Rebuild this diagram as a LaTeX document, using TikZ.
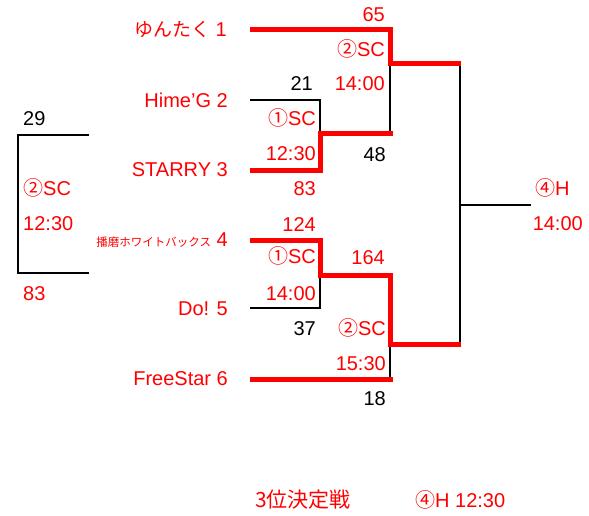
\documentclass[tikz,border=0pt]{standalone}
\usepackage{fontspec}
\setmainfont{Liberation Sans}
\newfontfamily\jp{Noto Sans CJK JP}
\definecolor{bred}{RGB}{255,0,0}
\tikzset{
  redline/.style={draw=bred, line width=5pt, line join=miter},
  blkline/.style={draw=black, line width=1.8pt, line join=miter},
  lbl/.style={inner sep=0pt, font=\fontsize{20}{20}\selectfont, text height=14.3pt, text depth=0pt},
  rlbl/.style={lbl, text=bred},
  klbl/.style={lbl, text=black},
}
\begin{document}
\begin{tikzpicture}[x=1pt, y=-1pt]
\useasboundingbox (0,0) rectangle (589,516);
% coordinates
\coordinate (a1) at (250,30);  \coordinate (a2) at (390,30);  \coordinate (a3) at (390,64);  \coordinate (a4) at (461,64);
\coordinate (b1) at (250,100); \coordinate (b2) at (320,100); \coordinate (b3) at (320,134);
\coordinate (c1) at (250,170); \coordinate (c2) at (320,170); \coordinate (c3) at (320,134); \coordinate (c4) at (392.5,134);
\coordinate (d1) at (390,64);  \coordinate (d2) at (390,134);
\coordinate (e1) at (460,64);  \coordinate (e2) at (460,344); \coordinate (e3) at (460,205); \coordinate (e4) at (531,205);
\coordinate (f1) at (250,240); \coordinate (f2) at (320,240); \coordinate (f3) at (320,275); \coordinate (f4) at (390,275); \coordinate (f5) at (390,344); \coordinate (f6) at (461,344);
\coordinate (g1) at (250,308); \coordinate (g2) at (320,308); \coordinate (g3) at (320,275);
\coordinate (h1) at (390,344); \coordinate (h2) at (390,379);
\coordinate (i1) at (250,379); \coordinate (i2) at (392.5,379);
\coordinate (l1) at (89,135);  \coordinate (l2) at (18,135);  \coordinate (l3) at (18,273);  \coordinate (l4) at (89,273);
% black lines
\draw[blkline] (b1) -- (b2) -- (b3);
\draw[blkline] (d1) -- (d2);
\draw[blkline] (e1) -- (e2);
\draw[blkline] (e3) -- (e4);
\draw[blkline] (g1) -- (g2) -- (g3);
\draw[blkline] (h1) -- (h2);
\draw[blkline] (l1) -- (l2) -- (l3) -- (l4);
% red lines
\draw[redline] (a1) -- (a2) -- (a3) -- (a4);
\draw[redline] (c1) -- (c2) -- (c3) -- (c4);
\draw[redline] (f1) -- (f2) -- (f3) -- (f4) -- (f5) -- (f6);
\draw[redline] (i1) -- (i2);
% team names
\node[rlbl, anchor=east] (t1) at (227,29) {{\jp\fontsize{19}{19}\selectfont ゆんたく} 1};
\node[rlbl, anchor=east] (t2) at (228,100) {Hime'G 2};
\node[rlbl, anchor=east] (t3) at (228,169) {STARRY 3};
\node[rlbl, anchor=east] (t4) at (228,239) {{\jp\fontsize{11.5}{11.5}\selectfont 播磨ホワイトバックス} 4};
\node[rlbl, anchor=east] (t5) at (228,308) {Do! 5};
\node[rlbl, anchor=east] (t6) at (228,378) {FreeStar 6};
% upper block
\node[rlbl, anchor=east] (s65) at (385,14) {65};
\node[rlbl, anchor=east] (m2a) at (385,49) {{\jp ②}SC};
\node[rlbl, anchor=east] (tm2a) at (385,83) {14:00};
\node[klbl, anchor=east] (s21) at (313,83) {21};
\node[rlbl, anchor=east] (m1a) at (316,118) {{\jp ①}SC};
\node[rlbl, anchor=east] (tm1a) at (316,153) {12:30};
\node[klbl, anchor=east] (s48) at (386,154) {48};
\node[rlbl, anchor=east] (s83) at (316,188) {83};
% final
\node[rlbl, anchor=west] (m4) at (535,188) {{\jp ④}H};
\node[rlbl, anchor=east] (tm4) at (583,223) {14:00};
% lower block
\node[rlbl, anchor=east] (s124) at (316,224) {124};
\node[rlbl, anchor=east] (m1b) at (316,256) {{\jp ①}SC};
\node[rlbl, anchor=east] (s164) at (385,257) {164};
\node[rlbl, anchor=east] (tm1b) at (316,293) {14:00};
\node[klbl, anchor=east] (s37) at (316,328) {37};
\node[rlbl, anchor=east] (m2b) at (386,328) {{\jp ②}SC};
\node[rlbl, anchor=east] (tm2b) at (386,363) {15:30};
\node[klbl, anchor=east] (s18) at (386,398) {18};
% left bracket
\node[klbl, anchor=west] (s29) at (23,118) {29};
\node[rlbl, anchor=west] (m2c) at (23,188) {{\jp ②}SC};
\node[rlbl, anchor=west] (tm2c) at (23,223) {12:30};
\node[rlbl, anchor=west] (s83b) at (23,293) {83};
% third place
\node[rlbl, anchor=west] (third) at (255,500) {{\jp\fontsize{21}{21}\selectfont 3位決定戦}};
\node[rlbl, anchor=west] (third2) at (415,500) {{\jp ④}H 12:30};
\end{tikzpicture}
\end{document}
